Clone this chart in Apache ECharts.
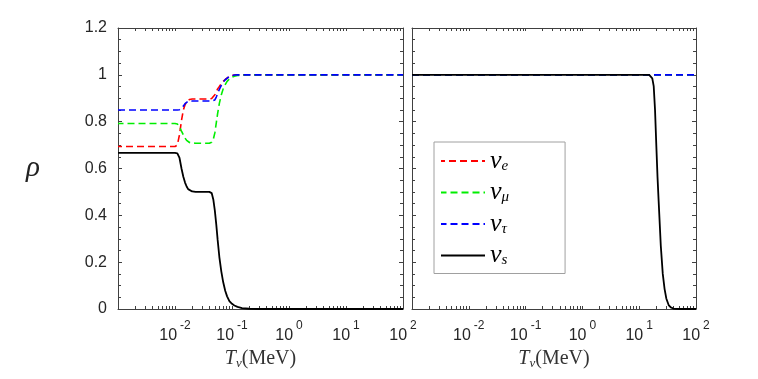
<!DOCTYPE html>
<html>
<head>
<meta charset="utf-8">
<title>rho vs T</title>
<script src="https://cdn.jsdelivr.net/npm/echarts@6.0.0/dist/echarts.min.js"></script>
<style>
  html, body { margin: 0; padding: 0; background: #fff; }
  #chart { width: 758px; height: 379px; }
</style>
</head>
<body>
<div id="chart"></div>
<script>
// left panel: temperatures (MeV) and rho for each flavour
const tLeft = [0.001, 0.010, 0.011, 0.012, 0.013, 0.014, 0.015, 0.016, 0.017, 0.018, 0.020, 0.023, 0.030, 0.040,
  0.044, 0.047, 0.050, 0.053, 0.056, 0.060, 0.065, 0.070, 0.076, 0.082, 0.090, 0.100, 0.110, 0.125, 0.150, 0.200, 0.300, 100];
const rhoELeft = [0.694, 0.694, 0.700, 0.745, 0.805, 0.850, 0.872, 0.886, 0.892, 0.895, 0.897, 0.897, 0.897, 0.897,
  0.899, 0.905, 0.915, 0.928, 0.940, 0.950, 0.962, 0.972, 0.980, 0.987, 0.993, 0.997, 0.999, 1, 1, 1, 1, 1];
const rhoMuLeft = [0.792, 0.792, 0.790, 0.778, 0.760, 0.744, 0.730, 0.720, 0.714, 0.711, 0.709, 0.708, 0.708, 0.708,
  0.712, 0.725, 0.752, 0.795, 0.835, 0.878, 0.915, 0.940, 0.958, 0.972, 0.982, 0.990, 0.994, 0.997, 0.999, 1, 1, 1];
const rhoTauLeft = [0.850, 0.850, 0.850, 0.851, 0.855, 0.866, 0.877, 0.884, 0.887, 0.888, 0.888, 0.888, 0.888, 0.888,
  0.888, 0.889, 0.893, 0.905, 0.920, 0.938, 0.955, 0.968, 0.979, 0.987, 0.993, 0.997, 0.999, 1, 1, 1, 1, 1];
const rhoSLeft = [0.667, 0.667, 0.665, 0.645, 0.600, 0.565, 0.540, 0.523, 0.512, 0.506, 0.502, 0.500, 0.500, 0.500,
  0.495, 0.468, 0.420, 0.360, 0.295, 0.222, 0.160, 0.115, 0.078, 0.054, 0.034, 0.022, 0.015, 0.009, 0.004, 0.001, 0, 0];

// right panel
const tRight = [0.001, 15, 16, 17, 18, 19, 20, 21, 22, 24, 26, 28, 30, 33, 36, 40, 45, 55, 100];
const rhoERight = [1, 1, 1, 1, 1, 1, 1, 1, 1, 1, 1, 1, 1, 1, 1, 1, 1, 1, 1];
const rhoMuRight = [1, 1, 1, 1, 1, 1, 1, 1, 1, 1, 1, 1, 1, 1, 1, 1, 1, 1, 1];
const rhoTauRight = [1, 1, 1, 1, 1, 1, 1, 1, 1, 1, 1, 1, 1, 1, 1, 1, 1, 1, 1];
const rhoSRight = [1, 1, 0.997, 0.985, 0.952, 0.85, 0.70, 0.565, 0.46, 0.27, 0.15, 0.085, 0.045, 0.017, 0.007, 0.002, 0.0005, 0, 0];

// axis ticks
const decades = [0.001, 0.01, 0.1, 1, 10, 100];
const xLabelValues = [0.01, 0.1, 1, 10, 100];
const yTickLabels = ['0', '0.2', '0.4', '0.6', '0.8', '1', '1.2'];

const flavours = ['νe', 'νμ', 'ντ', 'νs'];
const colors = ['#ff0000', '#00ee00', '#0000ff', '#000000'];
const dash = [7, 4];
const axisColor = '#404040';
const textColor = '#262626';

let xTickValues = [];
decades.forEach(d => {
  xTickValues.push(d);
  if (d < 100) for (let k = 2; k <= 9; k++) xTickValues.push(+(d * k).toPrecision(3));
});

function decadeLabel(v) {
  const p = Math.round(Math.log10(v));
  return '{b|10}{e|' + p + '}';
}

function xAxes(g) {
  const base = {
    type: 'log', logBase: 10, gridIndex: g, min: 0.001, max: 100,
    axisLine: {show: true, onZero: false, lineStyle: {color: axisColor, width: 1}},
    axisTick: {show: true, inside: true, length: 3, customValues: xTickValues, lineStyle: {color: axisColor}},
    minorTick: {show: false},
    splitLine: {show: false}
  };
  return [
    Object.assign({}, base, {
      position: 'bottom',
      axisLabel: {
        customValues: xLabelValues, formatter: decadeLabel, margin: 11,
        rich: {
          b: {fontSize: 16, fontFamily: 'Liberation Sans', color: textColor, padding: [8, 0, 0, 0]},
          e: {fontSize: 12, fontFamily: 'Liberation Sans', color: textColor, verticalAlign: 'top', padding: [0, 0, 0, 3]}
        }
      },
      name: '{i|T}{s|ν}{r|(MeV)}',
      nameLocation: 'middle',
      nameGap: 38,
      nameTextStyle: {
        rich: {
          i: {fontSize: 20, fontFamily: 'Liberation Serif', fontStyle: 'italic', color: '#333'},
          s: {fontSize: 13, fontFamily: 'Liberation Serif', fontStyle: 'italic', color: '#333', verticalAlign: 'bottom', padding: [9, 0, 0, 0]},
          r: {fontSize: 20, fontFamily: 'Liberation Serif', color: '#333'}
        }
      }
    }),
    Object.assign({}, base, {position: 'top', axisLabel: {show: false}})
  ];
}

function yAxes(g) {
  const base = {
    type: 'value', gridIndex: g, min: 0, max: 1.2, interval: 0.2,
    axisLine: {show: true, onZero: false, lineStyle: {color: axisColor, width: 1}},
    axisTick: {show: true, inside: true, length: 4, lineStyle: {color: axisColor}},
    minorTick: {show: true, splitNumber: 4, length: 3, lineStyle: {color: axisColor}},
    splitLine: {show: false},
    minorSplitLine: {show: false}
  };
  const left = Object.assign({}, base, {
    position: 'left',
    axisLabel: {
      show: g === 0, margin: 11, fontSize: 16, fontFamily: 'Liberation Sans', color: textColor,
      formatter: v => yTickLabels[Math.round(v / 0.2)]
    }
  });
  if (g === 0) {
    left.name = 'ρ';
    left.nameLocation = 'middle';
    left.nameRotate = 0;
    left.nameGap = 78;
    left.nameTextStyle = {fontSize: 29, fontFamily: 'Liberation Serif', fontStyle: 'italic', color: '#222', padding: [8, 0, 0, 0]};
  }
  return [left, Object.assign({}, base, {position: 'right', axisLabel: {show: false}})];
}

const leftSets = [rhoELeft, rhoMuLeft, rhoTauLeft, rhoSLeft];
const rightSets = [rhoERight, rhoMuRight, rhoTauRight, rhoSRight];

function makeSeries(panel, ts, sets) {
  return sets.map((vals, i) => ({
    id: panel + i,
    name: flavours[i],
    type: 'line',
    xAxisIndex: panel === 'L' ? 0 : 2,
    yAxisIndex: panel === 'L' ? 0 : 2,
    data: ts.map((t, j) => [t, vals[j]]),
    symbol: 'none',
    showSymbol: false,
    z: 2 + i,
    lineStyle: {color: colors[i], width: i === 3 ? 1.8 : 1.6, type: i === 3 ? 'solid' : dash},
    itemStyle: {color: colors[i]},
    emphasis: {disabled: true}
  }));
}

const option = {
  animation: false,
  backgroundColor: '#ffffff',
  grid: [
    {left: 118, top: 28, width: 285, height: 281},
    {left: 412, top: 28, width: 284, height: 281}
  ],
  xAxis: xAxes(0).concat(xAxes(1)),
  yAxis: yAxes(0).concat(yAxes(1)),
  legend: {
    data: flavours,
    orient: 'vertical',
    left: 434, top: 142,
    padding: [6, 56, 5, 6],
    itemGap: 5.5,
    itemWidth: 44,
    itemHeight: 14,
    selectedMode: false,
    backgroundColor: '#ffffff',
    borderColor: '#a0a0a0',
    borderWidth: 1,
    borderRadius: 0,
    itemStyle: {opacity: 0},
    formatter: name => '{n|ν}{s|' + name.slice(1) + '}',
    textStyle: {
      rich: {
        n: {fontSize: 26, fontFamily: 'Liberation Serif', fontStyle: 'italic', color: '#000', lineHeight: 20},
        s: {fontSize: 15, fontFamily: 'Liberation Serif', fontStyle: 'italic', color: '#000', verticalAlign: 'bottom', padding: [10, 0, 0, 0]}
      }
    }
  },
  series: makeSeries('L', tLeft, leftSets).concat(makeSeries('R', tRight, rightSets))
};

const chart = echarts.init(document.getElementById('chart'), null, {renderer: 'canvas'});
chart.setOption(option);

// line up the dash phase of the flavours once they all sit at 1 in the left panel
const joinIdx = tLeft.indexOf(0.2);
function pathLen(vals) {
  let len = 0, prev = null;
  for (let i = 0; i <= joinIdx; i++) {
    const p = chart.convertToPixel({xAxisIndex: 0, yAxisIndex: 0}, [tLeft[i], vals[i]]);
    if (prev) len += Math.hypot(p[0] - prev[0], p[1] - prev[1]);
    prev = p;
  }
  return len;
}
const period = dash[0] + dash[1];
const lenTau = pathLen(rhoTauLeft);
chart.setOption({
  series: [0, 1].map(i => ({
    id: 'L' + i,
    lineStyle: {dashOffset: (((lenTau - pathLen(leftSets[i])) % period) + period) % period}
  }))
});
</script>
</body>
</html>
